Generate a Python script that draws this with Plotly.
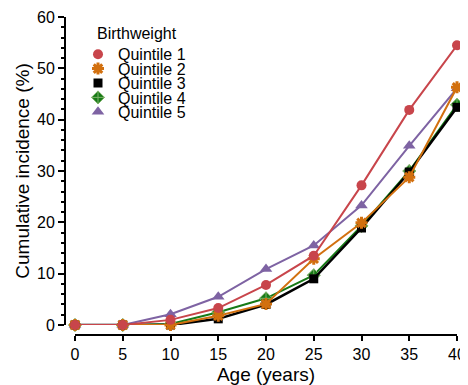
import plotly.graph_objects as go

ages = [0, 5, 10, 15, 20, 25, 30, 35, 40]
q1 = [0, 0, 1.0, 3.3, 7.8, 13.5, 27.2, 41.9, 54.5]
q2 = [0, 0, 0, 1.8, 4.1, 12.9, 19.9, 28.8, 46.3]
q3 = [0, 0, 0, 1.2, 4.0, 9.0, 18.9, 29.8, 42.4]
q4 = [0, 0, 0.2, 2.5, 5.2, 9.7, 19.3, 30.0, 42.9]
q5 = [0, 0, 2.1, 5.5, 10.9, 15.5, 23.3, 34.9, 46.1]

names = ["Quintile 1", "Quintile 2", "Quintile 3", "Quintile 4", "Quintile 5"]
series = [q1, q2, q3, q4, q5]
colors = ["#C8454B", "#D2700F", "#000000", "#177A17", "#7E63A3"]
symbols = ["circle", "asterisk", "square", "diamond-cross", "triangle-up"]
sizes = [10, 10, 9, 10, 11]
linewidths = [2, 2, 2.5, 2, 2]
legend_title = "Birthweight"

FONT = "Liberation Sans, Arial, sans-serif"

fig = go.Figure()

# draw Quintile 5 first, Quintile 1 last (on top)
for i in reversed(range(5)):
    c = colors[i]
    fig.add_trace(go.Scatter(
        x=ages, y=series[i], mode="lines",
        line=dict(color=c, width=linewidths[i]),
        showlegend=False, cliponaxis=False, hoverinfo="skip"))
    if symbols[i] == "asterisk":
        mk = dict(symbol="asterisk", size=sizes[i], color=c,
                  line=dict(color=c, width=3))
    elif symbols[i] == "diamond-cross":
        mk = dict(symbol="diamond-cross", size=sizes[i], color=c,
                  line=dict(color="#7FB36A", width=1))
    else:
        mk = dict(symbol=symbols[i], size=sizes[i], color=c,
                  line=dict(color=c, width=0))
    fig.add_trace(go.Scatter(
        x=ages, y=series[i], mode="markers", name=names[i],
        marker=mk, cliponaxis=False,
        legend="legend" if i == 0 else f"legend{i+1}"))

# page has an 8px body margin; figure is sized to compensate
OFF = 8
W, H = 468 - OFF, 385 - OFF
PX0, PX1, PY0, PY1 = 65, 457, 17, 335     # plot area in page pixels
L, T = PX0 - OFF, PY0 - OFF
R, B = (W + OFF) - PX1, (H + OFF) - PY1
pw, ph = PX1 - PX0, PY1 - PY0


def fx(px):
    return (px - PX0) / pw


def fy(py):
    return 1 - (py - PY0) / ph


row_px = [54.3, 68.7, 83.1, 97.5, 111.9]
leg_left_px = 78
legends = {}
for i, py in enumerate(row_px):
    key = "legend" if i == 0 else f"legend{i+1}"
    legends[key] = dict(
        x=fx(leg_left_px), xanchor="left",
        y=fy(py), yanchor="middle",
        bgcolor="rgba(0,0,0,0)", borderwidth=0,
        font=dict(family=FONT, size=16, color="#000000"),
        itemwidth=30, tracegroupgap=0)

fig.update_layout(
    width=W, height=H,
    margin=dict(l=L, r=R, t=T, b=B, pad=0, autoexpand=False),
    plot_bgcolor="white", paper_bgcolor="white",
    font=dict(family=FONT, size=16, color="#000000"),
    xaxis=dict(
        domain=[10 / pw, 1], range=[0, 40], anchor="free", position=0,
        automargin=False,
        tickmode="array", tickvals=[0, 5, 10, 15, 20, 25, 30, 35, 40],
        ticks="outside", ticklen=5, tickwidth=2, tickcolor="#000000",
        showline=True, linewidth=2, linecolor="#000000",
        showgrid=False, zeroline=False,
        tickfont=dict(family=FONT, size=16, color="#000000"),
        title=dict(text="Age (years)", font=dict(family=FONT, size=19, color="#000000"),
                   standoff=11),
    ),
    yaxis=dict(
        domain=[10 / ph, 1], range=[0, 60], anchor="free", position=0,
        automargin=False,
        tickmode="linear", tick0=0, dtick=10,
        ticks="outside", ticklen=6, tickwidth=2, tickcolor="#000000",
        minor=dict(dtick=2, ticks="outside", ticklen=3, tickwidth=1.5, tickcolor="#000000"),
        showline=True, linewidth=2, linecolor="#000000",
        showgrid=False, zeroline=False,
        tickfont=dict(family=FONT, size=16, color="#000000"),
        title=dict(text="Cumulative incidence (%)",
                   font=dict(family=FONT, size=19, color="#000000"), standoff=1),
    ),
    annotations=[dict(
        text=legend_title, xref="paper", yref="paper",
        x=fx(95), xanchor="left",
        y=fy(34), yanchor="middle",
        showarrow=False, font=dict(family=FONT, size=16, color="#000000"))],
    **legends,
)

fig.write_html("out.html")
